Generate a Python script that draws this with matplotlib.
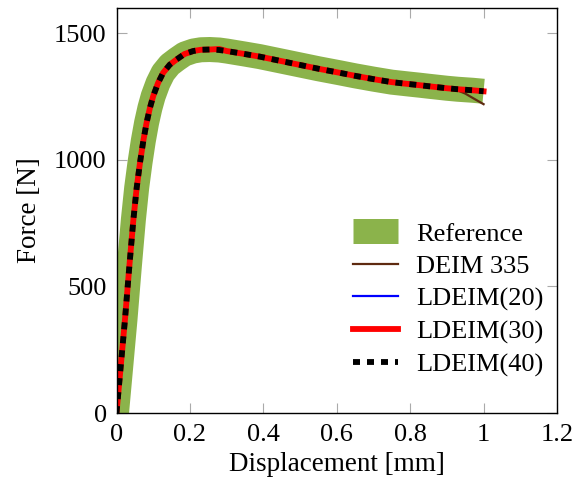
import matplotlib
matplotlib.use("Agg")
import matplotlib.pyplot as plt
import numpy as np

plt.rcParams['font.family'] = ['Liberation Serif', 'DejaVu Serif']
plt.rcParams['mathtext.fontset'] = 'stix'

# Kraft-Weg-Kurve
disp = [0.0, 0.010, 0.023, 0.035, 0.046, 0.055, 0.064, 0.073, 0.082, 0.091, 0.100,
        0.113, 0.127, 0.145, 0.164, 0.185, 0.209, 0.230, 0.254, 0.28, 0.30, 0.35,
        0.39, 0.45, 0.50, 0.55, 0.608, 0.65, 0.70, 0.75, 0.80, 0.826, 0.85, 0.90,
        0.93, 0.95, 0.97, 1.0]
force_ref = [0, 160, 368, 580, 764, 890, 989, 1075, 1147, 1205, 1252,
             1303, 1344, 1376, 1397, 1418, 1430, 1435, 1436, 1434, 1430, 1418,
             1408, 1390, 1375, 1360, 1344, 1332, 1319, 1307, 1299, 1295, 1291, 1283,
             1279, 1277, 1275, 1271]

# DEIM 335 weicht am Ende ab
force_deim335 = force_ref[:-4] + [1274, 1262, 1245, 1220]
# LDEIM(20): kleine Abweichung bei ~0.78
force_ldeim20 = force_ref[:29] + [1310, 1304] + force_ref[31:]
force_ldeim30 = force_ref[:19] + [1438] + force_ref[20:]
force_ldeim40 = list(force_ref)

fig = plt.figure(figsize=(5.72, 4.84), dpi=100)
ax = fig.add_axes([116.5 / 572, 71 / 484, 440.5 / 572, 405 / 484])

ax.plot(disp, force_ref, color='#8bb34b', lw=18, solid_capstyle='butt',
        solid_joinstyle='round', label='Reference')
ax.plot(disp, force_deim335, color='#5e2a10', lw=1.6, label='DEIM 335')
ax.plot(disp, force_ldeim20, color='#0000ff', lw=1.6, label='LDEIM(20)')
ax.plot(disp, force_ldeim30, color='#ff0000', lw=4.2, label='LDEIM(30)')
ax.plot(disp, force_ldeim40, color='black', lw=4.2, ls=(0, (1.2, 1.2)),
        dash_capstyle='butt', label='LDEIM(40)')

ax.set_xlim(0, 1.2)
ax.set_ylim(0, 1600)
ax.set_xticks([0, 0.2, 0.4, 0.6, 0.8, 1.0, 1.2])
ax.set_xticklabels(['0', '0.2', '0.4', '0.6', '0.8', '1', '1.2'])
ax.set_yticks([0, 500, 1000, 1500])
ax.tick_params(direction='in', length=7, width=0.8, color='#aaaaaa',
               top=True, right=True, labelsize=19)
ax.tick_params(axis='y', pad=7)
ax.tick_params(axis='x', pad=8)
for s in ax.spines.values():
    s.set_linewidth(1.0)

ax.set_xlabel('Displacement [mm]', fontsize=19.5, labelpad=4)
ax.set_ylabel('Force [N]', fontsize=19.5, labelpad=9)

leg = ax.legend(loc='lower right', bbox_to_anchor=(1.023, 0.03), frameon=False,
                fontsize=19, handlelength=1.7, handletextpad=0.7, labelspacing=0.345)

plt.savefig('out.png', dpi=100)
